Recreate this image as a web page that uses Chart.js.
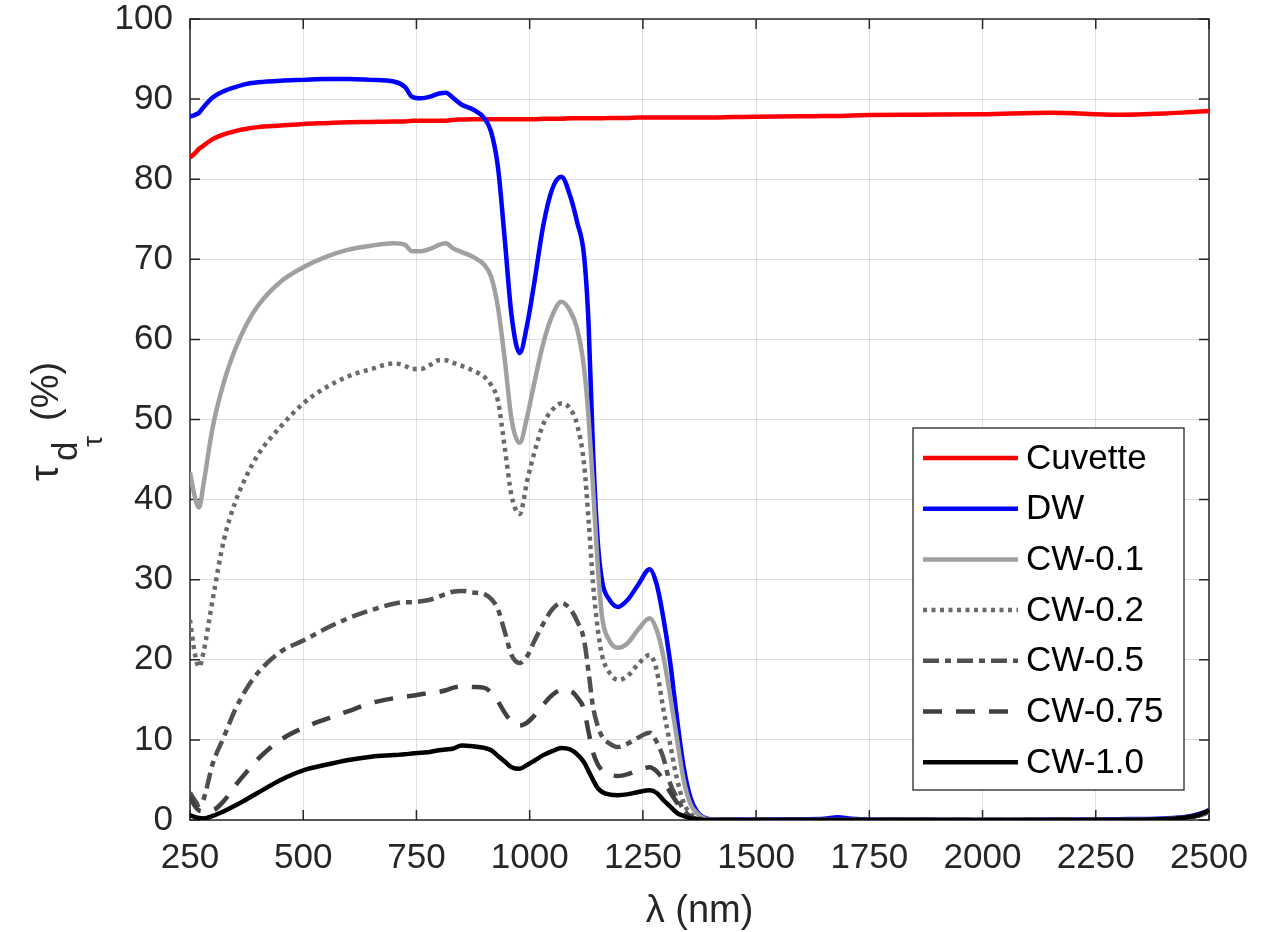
<!DOCTYPE html>
<html>
<head>
<meta charset="utf-8">
<script src="https://cdn.jsdelivr.net/npm/chart.js@4.4.1/dist/chart.umd.min.js"></script>
<style>
  html, body { margin: 0; padding: 0; background: #ffffff; }
  #wrap { width: 1276px; height: 932px; position: relative; }
</style>
</head>
<body>
<div id="wrap"><canvas id="c" width="1276" height="932"></canvas></div>
<script>
// ---- data ----
const wavelength = [250, 260, 270, 280, 300, 325, 350, 375, 400, 450,
  500, 550, 600, 650, 700, 725, 740, 760, 780, 800,
  815, 830, 850, 875, 900, 915, 930, 945, 960, 978,
  995, 1010, 1030, 1050, 1070, 1090, 1105, 1120, 1130, 1140,
  1150, 1160, 1175, 1195, 1215, 1240, 1265, 1280, 1295, 1310,
  1325, 1340, 1355, 1370, 1385, 1400, 1450, 1500, 1600, 1650,
  1680, 1710, 1750, 1850, 2000, 2150, 2300, 2400, 2450, 2480, 2500];

const cuvette = [82.7, 83.2, 83.8, 84.2, 85.0, 85.6, 86.0, 86.3, 86.5, 86.7,
  86.9, 87.0, 87.1, 87.15, 87.2, 87.2, 87.3, 87.3, 87.3, 87.3,
  87.3, 87.4, 87.45, 87.5, 87.5, 87.5, 87.5, 87.5, 87.5, 87.5,
  87.5, 87.5, 87.55, 87.55, 87.55, 87.6, 87.6, 87.6, 87.6, 87.6,
  87.6, 87.6, 87.65, 87.65, 87.65, 87.7, 87.7, 87.7, 87.7, 87.7,
  87.7, 87.7, 87.7, 87.7, 87.7, 87.7, 87.75, 87.8, 87.85, 87.9,
  87.9, 87.95, 88.0, 88.05, 88.1, 88.3, 88.05, 88.2, 88.35, 88.45, 88.5];

const dw = [87.8, 88.0, 88.3, 89.0, 90.2, 91.0, 91.5, 91.9, 92.1, 92.3,
  92.4, 92.5, 92.5, 92.4, 92.2, 91.5, 90.3, 90.1, 90.3, 90.7,
  90.8, 90.2, 89.3, 88.7, 87.6, 85.9, 81.5, 72.5, 63.0, 58.3,
  62.0, 67.0, 74.2, 78.8, 80.3, 77.8, 74.6, 70.5, 62.0, 46.0,
  35.0, 29.8, 27.6, 26.6, 27.4, 29.4, 31.3, 29.5, 25.3, 19.8,
  12.8, 6.6, 2.8, 1.0, 0.3, 0.1, 0.05, 0.05, 0.1, 0.15,
  0.35, 0.15, 0.05, 0.05, 0.0, 0.05, 0.1, 0.2, 0.4, 0.8, 1.2];

const cw01 = [43.4, 40.5, 39.0, 42.0, 49.0, 54.7, 58.8, 61.9, 64.2, 67.2,
  69.0, 70.3, 71.2, 71.7, 72.0, 71.8, 71.0, 71.0, 71.3, 71.8,
  72.0, 71.4, 70.9, 70.3, 69.3, 67.8, 64.0, 57.5, 50.0, 47.1,
  50.5, 54.5, 59.5, 63.0, 64.7, 63.5, 61.3, 56.5, 50.3, 41.5,
  32.0, 25.3, 22.5, 21.5, 22.0, 23.8, 25.2, 23.8, 20.5, 15.6,
  10.2, 5.0, 2.0, 0.8, 0.2, 0.05, 0, 0, 0, 0,
  0, 0, 0, 0, 0, 0, 0, 0.1, 0.3, 0.6, 1.0];

const cw02 = [25.0, 21.0, 19.1, 21.0, 27.5, 35.0, 39.7, 43.0, 45.6, 49.1,
  52.0, 54.0, 55.4, 56.3, 57.0, 56.7, 56.3, 56.3, 56.8, 57.4,
  57.4, 57.1, 56.7, 56.1, 55.3, 54.3, 52.3, 46.5, 40.5, 38.2,
  42.5, 45.8, 49.4, 51.2, 52.0, 51.3, 49.3, 44.5, 37.5, 29.5,
  24.0, 20.5, 18.5, 17.5, 17.9, 19.5, 20.6, 18.8, 13.9, 9.5,
  5.2, 2.2, 0.8, 0.3, 0.1, 0, 0, 0, 0, 0,
  0, 0, 0, 0, 0, 0, 0, 0.1, 0.3, 0.6, 1.0];

const cw05 = [3.4, 2.5, 1.9, 2.6, 7.0, 10.4, 13.8, 16.4, 18.4, 21.0,
  22.4, 23.9, 25.2, 26.2, 27.0, 27.2, 27.2, 27.3, 27.5, 27.9,
  28.2, 28.5, 28.6, 28.4, 28.2, 27.6, 26.3, 23.5, 20.6, 19.6,
  20.5, 22.3, 24.5, 26.3, 27.1, 26.3, 24.8, 22.5, 18.5, 14.1,
  11.8, 10.4, 9.6, 9.1, 9.5, 10.3, 10.9, 9.8, 7.8, 4.6,
  2.8, 1.3, 0.4, 0.1, 0, 0, 0, 0, 0, 0,
  0, 0, 0, 0, 0, 0, 0, 0.1, 0.3, 0.6, 1.0];

const cw075 = [3.0, 1.8, 1.2, 1.1, 1.2, 2.4, 4.3, 6.0, 7.6, 10.0,
  11.5, 12.6, 13.6, 14.6, 15.2, 15.4, 15.5, 15.7, 15.9, 16.0,
  16.2, 16.5, 16.7, 16.6, 16.5, 15.9, 14.8, 13.4, 12.3, 11.8,
  12.2, 13.0, 14.4, 15.6, 16.2, 16.1, 15.3, 13.8, 11.0, 8.4,
  7.0, 6.2, 5.7, 5.5, 5.7, 6.2, 6.6, 6.1, 5.0, 3.5,
  2.2, 1.0, 0.4, 0.1, 0, 0, 0, 0, 0, 0,
  0, 0, 0, 0, 0, 0, 0, 0.1, 0.3, 0.6, 1.0];

const cw10 = [0.6, 0.4, 0.25, 0.2, 0.5, 1.1, 1.8, 2.6, 3.4, 5.0,
  6.2, 6.9, 7.5, 7.9, 8.1, 8.2, 8.3, 8.4, 8.5, 8.7,
  8.8, 8.9, 9.3, 9.2, 9.0, 8.7, 8.0, 7.3, 6.6, 6.4,
  6.9, 7.4, 8.1, 8.6, 9.0, 8.8, 8.2, 7.2, 6.1, 5.0,
  4.0, 3.5, 3.2, 3.1, 3.2, 3.5, 3.7, 3.4, 2.5, 1.7,
  0.9, 0.5, 0.2, 0.1, 0, 0, 0, 0, 0, 0,
  0, 0, 0, 0, 0, 0, 0, 0.1, 0.3, 0.7, 1.2];

const seriesNames = ['Cuvette', 'DW', 'CW-0.1', 'CW-0.2', 'CW-0.5', 'CW-0.75', 'CW-1.0'];
const seriesValues = [cuvette, dw, cw01, cw02, cw05, cw075, cw10];
const xTicks = [250, 500, 750, 1000, 1250, 1500, 1750, 2000, 2250, 2500];
const yTicks = [0, 10, 20, 30, 40, 50, 60, 70, 80, 90, 100];

// ---- styles ----
const styles = [
  { color: '#ff0000', dash: [] },
  { color: '#0000ff', dash: [] },
  { color: '#a0a0a0', dash: [] },
  { color: '#6a6a6a', dash: [4, 4.5] },
  { color: '#505050', dash: [16, 6, 6, 6] },
  { color: '#404040', dash: [19, 14] },
  { color: '#000000', dash: [] }
];
const FONT = '"Liberation Sans", Arial, Helvetica, sans-serif';
const AX = '#262626';

const datasets = seriesValues.map((vals, k) => ({
  label: seriesNames[k],
  data: wavelength.map((w, i) => ({ x: w, y: vals[i] })),
  borderColor: styles[k].color,
  borderDash: styles[k].dash,
  borderWidth: 4.5,
  pointRadius: 0,
  fill: false,
  cubicInterpolationMode: 'monotone',
  borderCapStyle: 'butt',
  borderJoinStyle: 'round',
  order: seriesValues.length - k
}));

const frame = {
  id: 'frame',
  beforeDatasetsDraw(chart) {
    const { ctx, chartArea: a, scales } = chart;
    ctx.save();
    ctx.strokeStyle = AX;
    ctx.lineWidth = 1.5;
    const tl = 10;
    ctx.beginPath();
    xTicks.forEach(v => {
      const px = scales.x.getPixelForValue(v);
      ctx.moveTo(px, a.bottom); ctx.lineTo(px, a.bottom - tl);
      ctx.moveTo(px, a.top); ctx.lineTo(px, a.top + tl);
    });
    yTicks.forEach(v => {
      const py = scales.y.getPixelForValue(v);
      ctx.moveTo(a.left, py); ctx.lineTo(a.left + tl, py);
      ctx.moveTo(a.right, py); ctx.lineTo(a.right - tl, py);
    });
    ctx.stroke();
    ctx.strokeRect(a.left, a.top, a.right - a.left, a.bottom - a.top);
    ctx.restore();
  },
  afterDatasetsDraw(chart) {
    const { ctx } = chart;
    // legend box
    const bx = 913, by = 428, bw = 271, bh = 362;
    ctx.save();
    ctx.fillStyle = '#ffffff';
    ctx.fillRect(bx, by, bw, bh);
    ctx.strokeStyle = AX;
    ctx.lineWidth = 1.3;
    ctx.strokeRect(bx, by, bw, bh);
    ctx.font = '35px ' + FONT;
    ctx.textBaseline = 'middle';
    ctx.textAlign = 'left';
    chart.data.datasets.forEach((ds, k) => {
      const cy = 458 + k * 50.7;
      ctx.beginPath();
      ctx.setLineDash(ds.borderDash);
      ctx.strokeStyle = ds.borderColor;
      ctx.lineWidth = ds.borderWidth;
      ctx.lineCap = 'butt';
      ctx.moveTo(923, cy); ctx.lineTo(1018, cy);
      ctx.stroke();
      ctx.setLineDash([]);
      ctx.fillStyle = '#000000';
      ctx.fillText(ds.label, 1026, cy + 1);
    });
    ctx.restore();
  },
  afterDraw(chart) {
    const { ctx, chartArea: a } = chart;
    ctx.save();
    ctx.fillStyle = AX;
    // x title
    ctx.font = '38px ' + FONT;
    ctx.textAlign = 'center';
    ctx.textBaseline = 'alphabetic';
    ctx.fillText('\u03BB (nm)', (a.left + a.right) / 2, 922);
    // y title (rotated), tau_{d_tau} (%)
    ctx.translate(58, 481);
    ctx.rotate(-Math.PI / 2);
    ctx.textAlign = 'left';
    ctx.font = '40px ' + FONT;
    ctx.fillText('\u03C4', 0, 0);
    ctx.font = '35px ' + FONT;
    ctx.fillText('d', 20, 19);
    ctx.font = '28px ' + FONT;
    ctx.fillText('\u03C4', 34, 44);
    ctx.font = '38px ' + FONT;
    ctx.fillText('(%)', 60, 0);
    ctx.restore();
  }
};

new Chart(document.getElementById('c'), {
  type: 'line',
  data: { datasets },
  options: {
    responsive: false,
    animation: false,
    events: [],
    layout: { padding: { top: 19, right: 67, left: 0, bottom: 0 } },
    plugins: { legend: { display: false }, tooltip: { enabled: false } },
    scales: {
      x: {
        type: 'linear',
        min: 250, max: 2500,
        afterBuildTicks: s => { s.ticks = xTicks.map(v => ({ value: v })); },
        afterFit: s => { s.height = 112; s.paddingLeft = 0; s.paddingRight = 0; },
        ticks: {
          color: AX, padding: 17, maxRotation: 0, autoSkip: false,
          font: { family: FONT, size: 35 },
          callback: v => String(v)
        },
        grid: { color: 'rgba(38,38,38,0.15)', lineWidth: 1, drawTicks: false },
        border: { display: false }
      },
      y: {
        type: 'linear',
        min: 0, max: 100,
        afterBuildTicks: s => { s.ticks = yTicks.map(v => ({ value: v })); },
        afterFit: s => { s.width = 190; s.paddingTop = 0; s.paddingBottom = 0; },
        ticks: {
          color: AX, padding: 17, autoSkip: false,
          font: { family: FONT, size: 35 },
          callback: v => String(v)
        },
        grid: { color: 'rgba(38,38,38,0.15)', lineWidth: 1, drawTicks: false },
        border: { display: false }
      }
    }
  },
  plugins: [frame]
});
</script>
</body>
</html>
